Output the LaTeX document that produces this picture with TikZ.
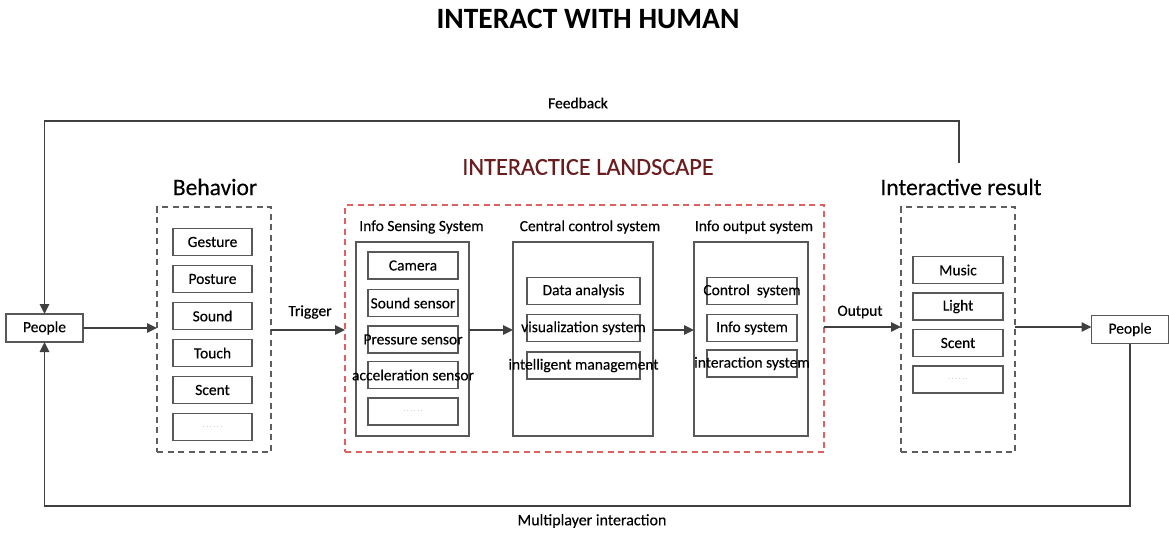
\documentclass[tikz,border=0pt]{standalone}
\usepackage{fontspec}
\setmainfont{Carlito}[UprightFeatures={FakeBold=0.25}]
\newfontfamily\titlefont{Carlito Bold}
\usetikzlibrary{arrows.meta}
\definecolor{linegray}{HTML}{404040}
\definecolor{boxgray}{HTML}{585858}
\definecolor{dashgray}{HTML}{5E5E5E}
\definecolor{dashred}{HTML}{E06060}
\definecolor{landred}{HTML}{6A1C1E}
\begin{document}
\begin{tikzpicture}[x=1pt,y=-1pt,
  every node/.style={inner sep=0pt, outer sep=0pt},
  txt/.style={font=\fontsize{15.5}{18}\selectfont},
  head/.style={font=\fontsize{23.5}{26}\selectfont},
  item/.style={draw=boxgray, line width=1.3pt, minimum width=#1, minimum height=27pt,
    font=\fontsize{15.5}{18}\selectfont},
  sysbox/.style={draw=boxgray, line width=1.3pt, minimum height=194pt, minimum width=#1},
  grp/.style={draw=dashgray, line width=1.3pt, dash pattern=on 6pt off 4.5pt,
    minimum width=114pt, minimum height=245pt},
  redgrp/.style={draw=dashred, line width=1.3pt, dash pattern=on 6pt off 4.5pt,
    minimum width=479pt, minimum height=247pt},
  person/.style={draw=boxgray, line width=1.3pt, minimum width=77pt, minimum height=28pt,
    font=\fontsize{15.5}{18}\selectfont},
  conn/.style={draw=linegray, line width=1.6pt},
  arr/.style={conn, -{Triangle[length=10pt,width=9.5pt]}}
]
\useasboundingbox[fill=white] (0,0) rectangle (1169,533);

% titles
\node[font=\titlefont\fontsize{29.5}{33}\selectfont] (title) at (588,19) {INTERACT WITH HUMAN};
\node[font=\fontsize{24.3}{27}\selectfont, text=landred] (landt) at (588,167) {INTERACTICE LANDSCAPE};
\node[head] (beht) at (215,187) {Behavior};
\node[head] (rest) at (961,187) {Interactive result};

% people
\node[person] (pL) at (44.5,328) {People};
\node[person] (pR) at (1130,329.5) {People};

% behaviour group
\node[grp] (beh) at (214,329.5) {};
\foreach \t [count=\i] in {Gesture,Posture,Sound,Touch,Scent,\tiny$\cdots\cdots$}
  \node[item=79pt] (b\i) at (212.5,{242+37*(\i-1)}) {\makebox[0pt]{\t}};

% interactive landscape
\node[redgrp] (land) at (584.5,328.5) {};
\node[txt] (senst) at (421.5,227) {Info Sensing System};
\node[txt] (centt) at (590,227) {Central control system};
\node[txt] (outt) at (754,227) {Info output system};
\node[sysbox=113pt] (sens) at (412.5,339) {};
\node[sysbox=140pt] (cent) at (583,339) {};
\node[sysbox=114pt] (outs) at (751,339) {};

\foreach \t/\y [count=\i] in {Camera/265.5,Sound sensor/303,Pressure sensor/339.5,acceleration sensor/375,{\tiny$\cdots\cdots$}/411.5}
  \node[item=90pt] (s\i) at (413,\y) {\makebox[0pt]{\t}};
\foreach \t/\y [count=\i] in {Data analysis/291,visualization system/328,intelligent management/365.5}
  \node[item=113pt] (c\i) at (583.5,\y) {\makebox[0pt]{\t}};
\foreach \t/\y [count=\i] in {Control\ \ system/291,Info system/328,interaction system/363.5}
  \node[item=90pt] (o\i) at (752,\y) {\makebox[0pt]{\t}};

% result group
\node[grp] (res) at (958,329.5) {};
\foreach \t [count=\i] in {Music,Light,Scent,\tiny$\cdots\cdots$}
  \node[item=90pt] (r\i) at (958,{270+36.5*(\i-1)}) {\makebox[0pt]{\t}};

% flow arrows
\draw[arr] (pL.east) -- (beh.west |- pL.east);
\coordinate (trigA) at (beh.east |- 0,330);
\draw[arr] (trigA) -- (land.west |- trigA);
\node[txt] (trigt) at (310,312) {Trigger};
\coordinate (scA) at (sens.east |- 0,330);
\draw[arr] (scA) -- (cent.west |- scA);
\coordinate (coA) at (cent.east |- 0,330);
\draw[arr] (coA) -- (outs.west |- coA);
\coordinate (outA) at (land.east |- 0,327);
\draw[arr] (outA) -- (res.west |- outA);
\node[txt] (outputt) at (860,312) {Output};
\coordinate (resA) at (res.east |- 0,327);
\draw[arr] (resA) -- (pR.west |- resA);

% feedback loop
\coordinate (fbStart) at (959,163);
\coordinate (fbTopR) at (959,121);
\coordinate (fbTopL) at (pL.north |- fbTopR);
\draw[arr] (fbStart) -- (fbTopR) -- (fbTopL) -- (pL.north);
\node[txt] (fbt) at (578,103) {Feedback};

% multiplayer loop
\coordinate (mpR) at (pR.south |- 0,506);
\coordinate (mpL) at (pL.south |- mpR);
\draw[arr] (pR.south) -- (mpR) -- (mpL) -- (pL.south);
\node[font=\fontsize{16}{18}\selectfont] (mpt) at (592,521) {Multiplayer interaction};
\end{tikzpicture}
\end{document}
